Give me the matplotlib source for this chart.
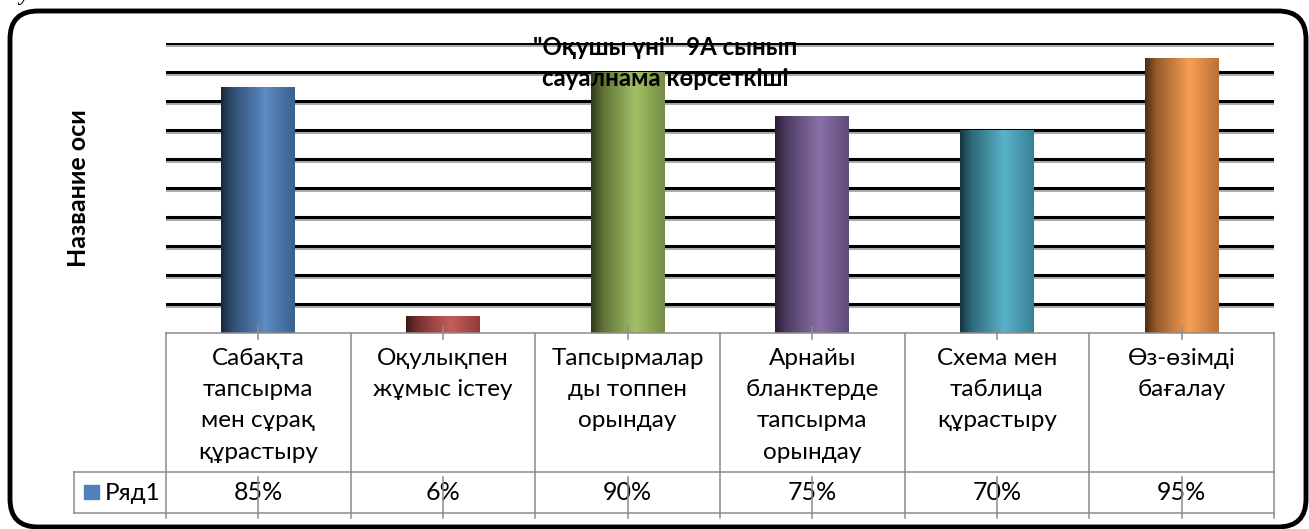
import numpy as np
import matplotlib
matplotlib.use('Agg')
import matplotlib.pyplot as plt
import matplotlib.patheffects as pe
import matplotlib.transforms as mtransforms
from matplotlib.colors import LinearSegmentedColormap, to_rgb
from matplotlib.patches import FancyBboxPatch, Rectangle

plt.rcParams['font.family'] = ['Lato', 'Open Sans', 'DejaVu Sans']

# survey results
categories = [
    'Сабақта\nтапсырма\nмен сұрақ\nқұрастыру',
    'Оқулықпен\nжұмыс істеу',
    'Тапсырмалар\nды топпен\nорындау',
    'Арнайы\nбланктерде\nтапсырма\nорындау',
    'Схема мен\nтаблица\nқұрастыру',
    'Өз-өзімді\nбағалау',
]
values = [85, 6, 90, 75, 70, 95]
series_name = 'Ряд1'
bar_colors = ['#4F81BD', '#C0504D', '#9BBB59', '#8064A2', '#4BACC6', '#F79646']
title = '"Оқушы үні"  9А сынып\nсауалнама көрсеткіші'
y_label = 'Название оси'
header_words = ['сауалнама', 'алдым', 'нәтижесі', 'төмендегі']

W, H = 1309, 529
fig = plt.figure(figsize=(W / 100, H / 100), dpi=100)

# background layer in pixel units: frame, header line, table
bg = fig.add_axes([0, 0, 1, 1])
bg.set_xlim(0, W)
bg.set_ylim(H, 0)
bg.axis('off')

frame = FancyBboxPatch((10, 11), 1296, 516, boxstyle='round,pad=0,rounding_size=28',
                       fill=False, lw=3.5, ec='black')
bg.add_patch(frame)

# bottom of the text line above the chart
for word, hx in zip(header_words, [2, 408, 754, 1137]):
    bg.text(hx, 0, word, fontsize=15, fontweight='bold', fontstyle='italic',
            family=['Liberation Serif', 'DejaVu Serif'], va='baseline', ha='left')


def px_box(x0, y0, x1, y1):
    return [x0 / W, 1 - y1 / H, (x1 - x0) / W, (y1 - y0) / H]


ax = fig.add_axes(px_box(166, 43, 1274, 333))
ax.patch.set_alpha(0)
x = np.arange(len(categories))
heights = np.array(values) / 100
bars = ax.bar(x, heights, width=0.4, color=bar_colors, zorder=3)

# cylinder-like shading on each bar
grad = np.linspace(0, 1, 256).reshape(1, -1)
for bar, c in zip(bars, bar_colors):
    base = np.array(to_rgb(c))
    light = base + (1 - base) * 0.08
    cmap = LinearSegmentedColormap.from_list(
        'cyl', [(0, base * 0.3), (0.15, base * 0.6), (0.6, light), (1, base * 0.75)])
    x0, y0 = bar.get_xy()
    im = ax.imshow(grad, cmap=cmap, aspect='auto', interpolation='bicubic',
                   extent=[x0, x0 + bar.get_width(), y0, y0 + bar.get_height()], zorder=3.5)
    im.set_clip_path(bar)

ax.set_xlim(-0.5, len(categories) - 0.5)
ax.set_ylim(0, 1)
ax.set_yticks(np.arange(1, 11) / 10)
ax.set_xticks([])
ax.yaxis.grid(True, color='black', linewidth=2.2)
for gl in ax.get_ygridlines():
    gl.set_path_effects([pe.SimpleLineShadow(offset=(0, -1.2), shadow_color='#999999', alpha=0.8),
                         pe.Normal()])
ax.tick_params(length=0, labelleft=False)
for s in ax.spines.values():
    s.set_visible(False)
ax.set_axisbelow(True)

# data table under the plot
tr = mtransforms.blended_transform_factory(ax.transData, bg.transData)
line_kw = dict(color='#8c8c8c', lw=1.1, transform=tr, clip_on=False, zorder=5)
n = len(categories)
row_top, row_mid, row_bot, tick_end = 333, 472, 513, 518
for e in np.arange(n + 1) - 0.5:
    ax.plot([e, e], [row_top, tick_end], **line_kw)
ax.plot([-0.5, n - 0.5], [row_top, row_top], **line_kw)
ax.plot([-1, n - 0.5], [row_mid, row_mid], **line_kw)
ax.plot([-1, n - 0.5], [row_bot, row_bot], **line_kw)
ax.plot([-1, -1], [row_mid, row_bot], **line_kw)
for xi in x:
    ax.plot([xi, xi], [327, 339], **line_kw)
    ax.plot([xi, xi], [477, tick_end], **line_kw)

for xi, label, v in zip(x, categories, values):
    ax.text(xi, 348, label, transform=tr, ha='center', va='top', fontsize=17.5,
            linespacing=1.6, clip_on=False)
    ax.text(xi, 493, f'{v}%', transform=tr, ha='center', va='center', fontsize=18,
            clip_on=False)

ax.add_patch(Rectangle((-0.944, 485), 0.08, 14, transform=tr, color=bar_colors[0],
                       clip_on=False, zorder=6))
ax.text(-0.83, 493, series_name, transform=tr, ha='left', va='center', fontsize=17.5,
        clip_on=False)

fig.text(78 / W, 1 - 188 / H, y_label, rotation=90, ha='center', va='center',
         fontsize=18, fontweight='bold')
fig.text(665 / W, 1 - 63 / H, title, ha='center', va='center', fontsize=17.3,
         fontweight='bold', linespacing=1.45)

fig.savefig('out.png', dpi=100)
